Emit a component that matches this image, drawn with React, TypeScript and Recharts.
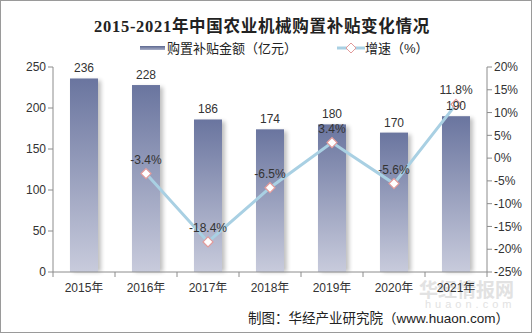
import { ComposedChart, Bar, Line, XAxis, YAxis, LabelList } from "recharts";

const years = ["2015年", "2016年", "2017年", "2018年", "2019年", "2020年", "2021年"];
const subsidy = [236, 228, 186, 174, 180, 170, 190];
const growth: (number | null)[] = [null, -3.4, -18.4, -6.5, 3.4, -5.6, 11.8];
const leftTicks = [0, 50, 100, 150, 200, 250];
const rightTicks = [-25, -20, -15, -10, -5, 0, 5, 10, 15, 20];

const data = years.map((year, i) => ({ year, subsidy: subsidy[i], growth: growth[i] }));

const font = "'Liberation Sans', Arial, 'Noto Sans CJK SC', sans-serif";
const axisColor = "#8c8c8c";

function Diamond(props: any) {
  const { cx, cy, value } = props;
  if (value == null || cx == null || cy == null) return null;
  const r = 5;
  return (
    <path
      d={`M${cx},${cy - r} L${cx + r},${cy} L${cx},${cy + r} L${cx - r},${cy} Z`}
      fill="#fff"
      stroke="#e29a9a"
      strokeWidth={1.2}
    />
  );
}

function XTick(props: any) {
  const { x, y, payload, index } = props;
  const half = 31;
  return (
    <g>
      <line x1={x - half} y1={y - 8} x2={x - half} y2={y - 3} stroke={axisColor} />
      {index === years.length - 1 && (
        <line x1={x + half} y1={y - 8} x2={x + half} y2={y - 3} stroke={axisColor} />
      )}
      <text x={x} y={y + 12} textAnchor="middle" fill="#333" fontSize={12} fontFamily={font}>
        {payload.value}
      </text>
    </g>
  );
}

function ShadowBar(props: any) {
  const { x, y, width, height } = props;
  return (
    <g>
      <rect x={x + 3} y={y + 2} width={width} height={height - 2} fill="#000" opacity={0.25} filter="url(#barBlur)" />
      <rect x={x} y={y} width={width} height={height} fill="url(#barGrad)" />
    </g>
  );
}

export default function App() {
  return (
    <div
      style={{
        position: "absolute",
        left: 0,
        top: 0,
        width: 532,
        height: 333,
        boxSizing: "border-box",
        border: "1px solid #9a9a9a",
        background: "#fff",
        fontFamily: font,
        overflow: "hidden",
      }}
    >
      <div
        style={{
          position: "absolute",
          top: 12,
          left: 0,
          width: 522,
          textAlign: "center",
          fontSize: 16.5,
          fontWeight: "bold",
          letterSpacing: 0.7,
          color: "#222",
          fontFamily: "'Liberation Serif', 'Noto Sans CJK SC', serif",
        }}
      >
        2015-2021年中国农业机械购置补贴变化情况
      </div>
      <div style={{ position: "absolute", top: 37, left: 139, fontSize: 13, color: "#222", display: "flex", alignItems: "center" }}>
        <span style={{ display: "inline-block", width: 25, height: 4, background: "linear-gradient(#5d6890, #aab0c8)", marginRight: 2 }} />
        <span>购置补贴金额（亿元）</span>
        <svg width={28} height={12} style={{ marginLeft: 40 }}>
          <line x1={0} y1={6} x2={28} y2={6} stroke="#a9d0e3" strokeWidth={3} />
          <path d="M14,1 L19,6 L14,11 L9,6 Z" fill="#fff" stroke="#e29a9a" strokeWidth={1} />
        </svg>
        <span>增速（%）</span>
      </div>
      <div style={{ position: "absolute", left: 418, top: 274, fontSize: 19, fontWeight: "bold", color: "#e2e2e2" }}>华经情报网</div>
      <div style={{ position: "absolute", left: 424, top: 297, fontSize: 11, letterSpacing: 4, color: "#e2e2e2" }}>huaon.com</div>
      <div style={{ position: "absolute", left: 0, top: 0 }}>
        <ComposedChart width={530} height={331} data={data} margin={{ top: 66, right: 0, bottom: 30, left: 0 }}>
          <defs>
            <linearGradient id="barGrad" x1="0" y1="0" x2="0" y2="1">
              <stop offset="0%" stopColor="#6a759f" />
              <stop offset="100%" stopColor="#c8cbdc" />
            </linearGradient>
            <filter id="barBlur" x="-50%" y="-10%" width="200%" height="120%">
              <feGaussianBlur stdDeviation={2} />
            </filter>
          </defs>
          <XAxis
            dataKey="year"
            stroke={axisColor}
            tickLine={false}
            tick={<XTick />}
            height={30}
            interval={0}
          />
          <YAxis
            yAxisId="left"
            domain={[0, 250]}
            ticks={leftTicks}
            width={52}
            stroke={axisColor}
            tickSize={5}
            tick={{ fill: "#333", fontSize: 12, fontFamily: font }}
          />
          <YAxis
            yAxisId="right"
            orientation="right"
            domain={[-25, 20]}
            ticks={rightTicks}
            width={44}
            stroke={axisColor}
            tickSize={5}
            tickFormatter={(v: number) => `${v}%`}
            tick={{ fill: "#333", fontSize: 12, fontFamily: font }}
          />
          <Bar yAxisId="left" dataKey="subsidy" barSize={28} shape={<ShadowBar />} isAnimationActive={false}>
            <LabelList dataKey="subsidy" position="top" offset={6} fill="#333" fontSize={12} fontFamily={font} />
          </Bar>
          <Line
            yAxisId="right"
            dataKey="growth"
            stroke="#a9d0e3"
            strokeWidth={3}
            dot={<Diamond />}
            activeDot={false}
            connectNulls
            isAnimationActive={false}
          >
            <LabelList
              dataKey="growth"
              position="top"
              offset={10}
              fill="#333"
              fontSize={12}
              fontFamily={font}
              formatter={(v: any) => (v == null ? "" : `${v}%`)}
            />
          </Line>
        </ComposedChart>
      </div>
      <div style={{ position: "absolute", left: 247, top: 306, fontSize: 13.5, color: "#222" }}>
        制图：华经产业研究院（www.huaon.com）
      </div>
    </div>
  );
}
